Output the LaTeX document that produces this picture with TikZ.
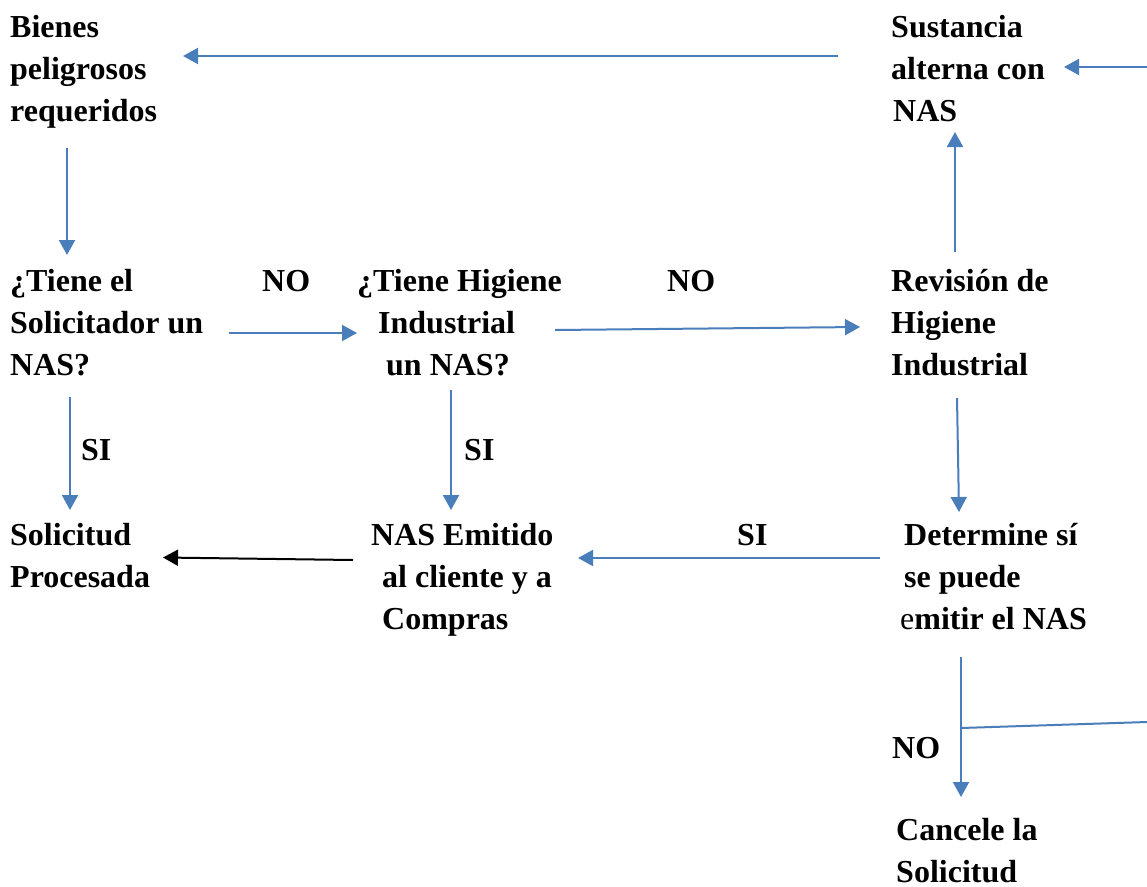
\documentclass[tikz,border=0pt]{standalone}
\usepackage{fontspec}
\setmainfont{Liberation Serif}
\usetikzlibrary{arrows.meta}
\definecolor{wordblue}{RGB}{74,126,187}
\begin{document}
\begin{tikzpicture}[x=1pt,y=-1pt,
  lbl/.style={anchor=base west, inner sep=0pt, font=\fontsize{32}{42}\selectfont\bfseries},
  arr/.style={draw=wordblue, line width=2pt, -{Triangle[length=15pt,width=16pt]}},
  plainline/.style={draw=wordblue, line width=2pt},
  blackarr/.style={draw=black, line width=2pt, -{Triangle[length=15pt,width=16pt]}}]
\useasboundingbox[fill=white] (0,0) rectangle (1147,886);

% text blocks
\node[lbl] (bienes) at (10,37.5) {\vtop{\hbox{Bienes}\hbox{peligrosos}\hbox{requeridos}}};
\node[lbl] (sust) at (891,37.5) {\vtop{\hbox{Sustancia}\hbox{alterna con}\hbox{\kern2pt NAS}}};
\node[lbl] (tiene) at (10,291) {\vtop{\hbox{¿Tiene el}\hbox{Solicitador un}\hbox{NAS?}}};
\node[lbl] (no1) at (262,291) {NO};
\node[lbl] (hig) at (357,291) {\vtop{\hbox{¿Tiene Higiene}\hbox{\kern21pt Industrial}\hbox{\kern29pt un NAS?}}};
\node[lbl] (no2) at (667,291) {NO};
\node[lbl] (rev) at (891,291) {\vtop{\hbox{Revisión de}\hbox{Higiene}\hbox{Industrial}}};
\node[lbl] (si1) at (81,460.5) {SI};
\node[lbl] (si2) at (464,460.5) {SI};
\node[lbl] (sol) at (10,545) {\vtop{\hbox{Solicitud}\hbox{Procesada}}};
\node[lbl] (nas) at (371,545) {\vtop{\hbox{NAS Emitido}\hbox{\kern11pt al cliente y a}\hbox{\kern11pt Compras}}};
\node[lbl] (si3) at (737,545) {SI};
\node[lbl] (det) at (904,545) {\vtop{\hbox{Determine sí}\hbox{se puede}\hbox{\kern-4pt{\mdseries e}mitir el NAS}}};
\node[lbl] (no3) at (892,758) {NO};
\node[lbl] (canc) at (896,840) {\vtop{\hbox{Cancele la}\hbox{Solicitud}}};

% connector end points
\coordinate (sustW) at (838,56);
\coordinate (bienesE) at (183,56);
\coordinate (edgeTop) at (1147,67);
\coordinate (sustE) at (1064,67);
\coordinate (bienesS) at (67,148);
\coordinate (tieneN) at (67,255);
\coordinate (tieneE) at (229,333);
\coordinate (higW) at (357,333);
\coordinate (higE) at (555,330);
\coordinate (revW) at (860,327);
\coordinate (revN) at (955,252);
\coordinate (sustS) at (955,132);
\coordinate (tieneS) at (70,397);
\coordinate (solN) at (70,510);
\coordinate (higS) at (451,390);
\coordinate (nasN) at (451,510);
\coordinate (revS) at (957,398);
\coordinate (detN) at (959,512);
\coordinate (detW) at (880,558);
\coordinate (nasE) at (578,558);
\coordinate (nasW) at (353,560);
\coordinate (solE) at (163,557.5);
\coordinate (detS) at (961,657);
\coordinate (cancN) at (961,797);
\coordinate (branch) at (961,728);
\coordinate (edgeBot) at (1147,722);

% connectors
\draw[arr] (sustW) -- (bienesE);
\draw[arr] (edgeTop) -- (sustE);
\draw[arr] (bienesS) -- (tieneN);
\draw[arr] (tieneE) -- (higW);
\draw[arr] (higE) -- (revW);
\draw[arr] (revN) -- (sustS);
\draw[arr] (tieneS) -- (solN);
\draw[arr] (higS) -- (nasN);
\draw[arr] (revS) -- (detN);
\draw[arr] (detW) -- (nasE);
\draw[blackarr] (nasW) -- (solE);
\draw[arr] (detS) -- (cancN);
\draw[plainline] (branch) -- (edgeBot);
\end{tikzpicture}
\end{document}
